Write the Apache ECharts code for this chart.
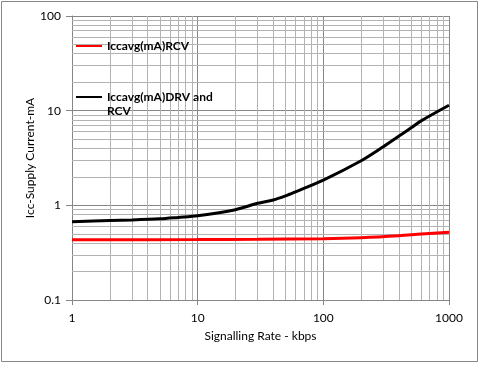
<!DOCTYPE html>
<html>
<head>
<meta charset="utf-8">
<script src="https://cdn.jsdelivr.net/npm/echarts@6/dist/echarts.min.js"></script>
<style>html,body{margin:0;padding:0;background:#fff}#c{width:479px;height:365px}</style>
</head>
<body>
<div id="c"></div>
<script>
// Signalling rate (kbps) and average supply current (mA)
const rateRCV = [1, 10, 30, 100, 200, 400, 600, 1000];
const iccRCV = [0.433, 0.435, 0.437, 0.444, 0.455, 0.477, 0.497, 0.52];
const rateDRV = [1, 2, 3, 5, 7, 10, 20, 30, 40, 50, 60, 100, 200, 300, 400, 500, 600, 1000];
const iccDRV = [0.67, 0.69, 0.70, 0.72, 0.745, 0.775, 0.9, 1.05, 1.14, 1.26, 1.39, 1.85, 2.96, 4.16, 5.39, 6.6, 7.8, 11.4];
const xMinor = [2,3,4,5,6,7,8,9,20,30,40,50,60,70,80,90,200,300,400,500,600,700,800,900];
const yMinor = [0.2,0.3,0.4,0.5,0.6,0.7,0.8,0.9,2,3,4,5,6,7,8,9,20,30,40,50,60,70,80,90];
const seriesNames = ['Iccavg(mA)RCV', 'Iccavg(mA)DRV and RCV'];

const font = 'Lato, "Open Sans", sans-serif';
const minorLines = xMinor.map(v => ({xAxis: v})).concat(yMinor.map(v => ({yAxis: v})));
const fmt = v => String(+v.toPrecision(6));

const chart = echarts.init(document.getElementById('c'));
chart.setOption({
  animation: false,
  backgroundColor: '#fff',
  graphic: [{
    type: 'rect', silent: true, z: -1,
    shape: {x: 1.5, y: 1.5, width: 476, height: 360},
    style: {fill: 'none', stroke: '#868686', lineWidth: 1}
  }],
  grid: {left: 72, right: 30, top: 16, bottom: 65},
  legend: {
    orient: 'vertical', left: 75, top: 39, padding: 0,
    itemWidth: 26, itemHeight: 14, itemGap: 23,
    itemStyle: {opacity: 0},
    data: [{name: seriesNames[0]}, {name: seriesNames[1]}],
    formatter: n => n === seriesNames[1] ? '\nIccavg(mA)DRV and\nRCV' : n,
    textStyle: {fontFamily: font, fontSize: 12, fontWeight: 'bold', color: '#000', lineHeight: 14}
  },
  xAxis: {
    type: 'log', logBase: 10, min: 1, max: 1000,
    name: 'Signalling Rate - kbps', nameLocation: 'middle', nameGap: 30,
    nameMoveOverlap: false,
    nameTextStyle: {fontFamily: font, fontSize: 12, color: '#000'},
    axisLine: {lineStyle: {color: '#868686'}},
    axisTick: {show: true, length: 5, lineStyle: {color: '#868686'}},
    axisLabel: {fontFamily: font, fontSize: 12, color: '#000', margin: 12, formatter: fmt},
    splitLine: {show: true, lineStyle: {color: '#868686', width: 1}}
  },
  yAxis: {
    type: 'log', logBase: 10, min: 0.1, max: 100,
    name: 'Icc-Supply Current-mA', nameLocation: 'middle', nameGap: 36, nameRotate: 90,
    nameMoveOverlap: false,
    nameTextStyle: {fontFamily: font, fontSize: 12, color: '#000'},
    axisLine: {show: true, lineStyle: {color: '#868686'}},
    axisTick: {show: true, length: 6, lineStyle: {color: '#868686'}},
    axisLabel: {fontFamily: font, fontSize: 12, color: '#000', margin: 11, formatter: fmt},
    splitLine: {show: true, lineStyle: {color: '#868686', width: 1}}
  },
  series: [
    {
      name: seriesNames[0], type: 'line', smooth: 0.3, symbol: 'none',
      data: rateRCV.map((x, i) => [x, iccRCV[i]]),
      lineStyle: {color: '#ff0000', width: 3}, itemStyle: {color: '#ff0000'},
      z: 3,
      markLine: {
        silent: true, z: 1, symbol: ['none', 'none'], animation: false,
        label: {show: false},
        lineStyle: {color: '#b3b3b3', width: 1, type: 'solid'},
        emphasis: {disabled: true},
        data: minorLines
      }
    },
    {
      name: seriesNames[1], type: 'line', smooth: 0.3, symbol: 'none',
      data: rateDRV.map((x, i) => [x, iccDRV[i]]),
      lineStyle: {color: '#000000', width: 3}, itemStyle: {color: '#000000'},
      z: 4
    }
  ]
});
</script>
</body>
</html>
